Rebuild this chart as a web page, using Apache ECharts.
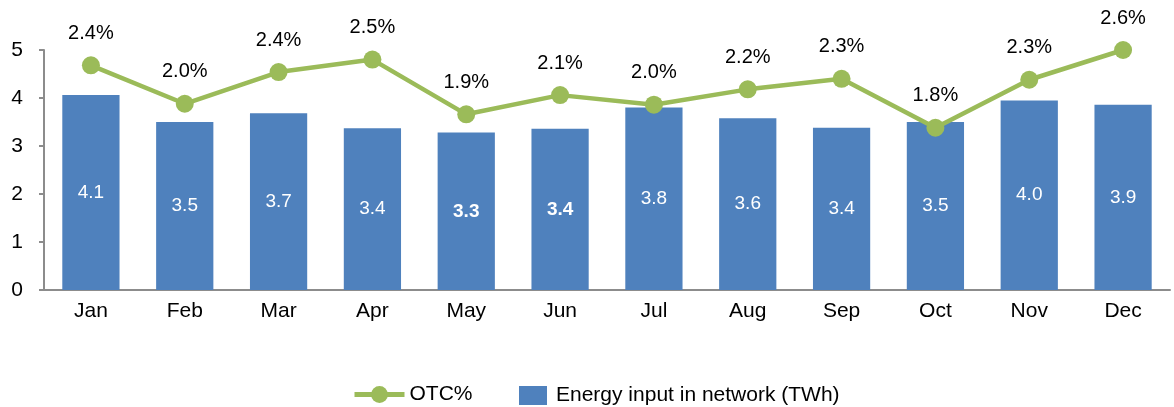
<!DOCTYPE html>
<html>
<head>
<meta charset="utf-8">
<script src="https://cdn.jsdelivr.net/npm/echarts@6/dist/echarts.min.js"></script>
<style>
  html, body { margin: 0; padding: 0; background: #fff; }
  #main { width: 1174px; height: 407px; }
</style>
</head>
<body>
<div id="main"></div>
<script>
// data
const months = ['Jan', 'Feb', 'Mar', 'Apr', 'May', 'Jun', 'Jul', 'Aug', 'Sep', 'Oct', 'Nov', 'Dec'];
const energyTWh = [4.06, 3.5, 3.68, 3.37, 3.28, 3.36, 3.8, 3.58, 3.38, 3.5, 3.95, 3.86];
const otcPct = [2.44, 2.04, 2.37, 2.5, 1.93, 2.13, 2.03, 2.19, 2.3, 1.79, 2.29, 2.6];
const boldMonths = ['May', 'Jun'];

const FONT = 'Liberation Sans, Arial, sans-serif';
const BLUE = '#4F81BD';
const GREEN = '#9BBB59';

const chart = echarts.init(document.getElementById('main'), null, {renderer: 'canvas'});

const barData = energyTWh.map((v, i) => {
    if (boldMonths.indexOf(months[i]) > -1) {
        return {value: v, label: {fontWeight: 'bold'}};
    }
    return v;
});

chart.setOption({
    animation: false,
    textStyle: {fontFamily: FONT},
    grid: {left: 44, right: 4, top: 50, bottom: 117, containLabel: false},
    legend: [
        {
            data: ['OTC%'],
            left: 347, top: 379,
            itemWidth: 50, itemHeight: 21,
            itemGap: 10,
            lineStyle: {width: 5},
            textStyle: {fontSize: 21, color: '#000', fontFamily: FONT}
        },
        {
            data: [{name: 'Energy input in network (TWh)', icon: 'rect'}],
            left: 514, top: 380,
            itemWidth: 28, itemHeight: 19,
            itemGap: 12,
            textStyle: {fontSize: 21, color: '#000', fontFamily: FONT, padding: [0, 0, 0, 4]}
        }
    ],
    xAxis: {
        type: 'category',
        data: months,
        axisLine: {lineStyle: {color: '#8c8c8c', width: 2}},
        axisTick: {show: false},
        axisLabel: {fontSize: 21, color: '#000', margin: 11, fontFamily: FONT}
    },
    yAxis: [
        {
            type: 'value',
            min: 0, max: 5, interval: 1,
            splitLine: {show: false},
            axisLine: {show: true, lineStyle: {color: '#8c8c8c', width: 2}},
            axisTick: {show: true, length: 5, lineStyle: {color: '#8c8c8c', width: 2}},
            axisLabel: {fontSize: 21, color: '#000', margin: 21, fontFamily: FONT}
        },
        {
            type: 'value',
            min: 0.1, max: 2.6,
            show: false,
            splitLine: {show: false}
        }
    ],
    series: [
        {
            name: 'Energy input in network (TWh)',
            type: 'bar',
            data: barData,
            barWidth: '61%',
            itemStyle: {color: BLUE},
            label: {
                show: true,
                position: 'inside',
                color: '#fff',
                fontSize: 19,
                fontFamily: FONT,
                formatter: p => p.value.toFixed(1)
            },
            z: 1
        },
        {
            name: 'OTC%',
            type: 'line',
            yAxisIndex: 1,
            data: otcPct,
            symbol: 'circle',
            symbolSize: 18,
            lineStyle: {color: GREEN, width: 4.5},
            itemStyle: {color: GREEN},
            label: {
                show: true,
                position: 'top',
                distance: 13,
                color: '#000',
                fontSize: 20,
                fontFamily: FONT,
                formatter: p => p.value.toFixed(1) + '%'
            },
            z: 3
        }
    ]
});
</script>
</body>
</html>
